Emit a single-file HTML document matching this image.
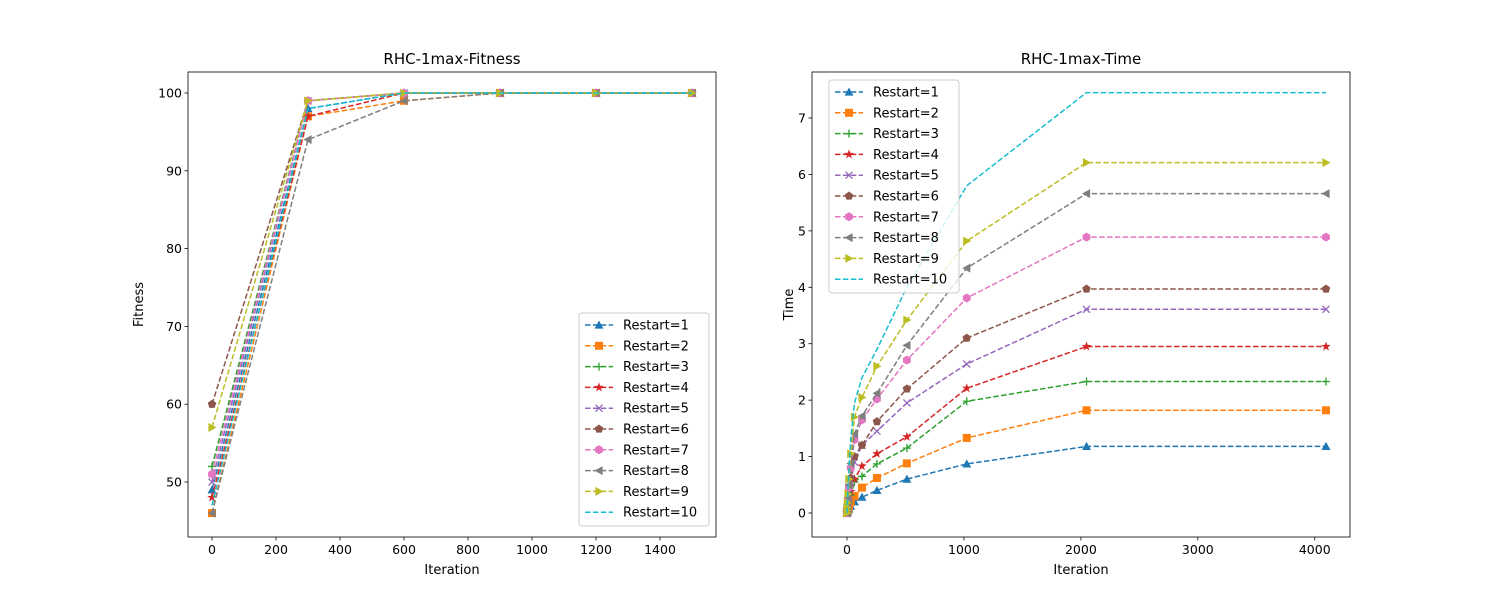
<!DOCTYPE html>
<html><head><meta charset="utf-8"><style>
body{margin:0;background:#fff;font-family:"Liberation Sans","DejaVu Sans",sans-serif}
svg text{font-family:"DejaVu Sans","Liberation Sans",sans-serif}
</style></head><body>
<svg id="c" width="1500" height="600" xmlns="http://www.w3.org/2000/svg"></svg>
<script>
const colors=['#1f77b4','#ff7f0e','#2ca02c','#d62728','#9467bd','#8c564b','#e377c2','#7f7f7f','#bcbd22','#17becf'];
const markers=['tri-up','square','plus','star','x','pentagon','hexagon','tri-left','tri-right','none'];
const seriesNames=['Restart=1','Restart=2','Restart=3','Restart=4','Restart=5','Restart=6','Restart=7','Restart=8','Restart=9','Restart=10'];
const fitIters=[0,300,600,900,1200,1500];
const fitValues=[
[49,98,100,100,100,100],[46,97,99,100,100,100],[52,99,100,100,100,100],[48,97,100,100,100,100],[50,99,100,100,100,100],
[60,99,100,100,100,100],[51,99,100,100,100,100],[46,94,99,100,100,100],[57,99,100,100,100,100],[47,98,100,100,100,100]];
const timeIters=[0,1,2,4,8,16,32,64,128,256,512,1024,2048,4096];
const timeValues=[
[0,0.01,0.01,0.02,0.04,0.07,0.12,0.2,0.28,0.4,0.6,0.87,1.18,1.18],
[0,0.01,0.02,0.03,0.06,0.11,0.19,0.3,0.45,0.62,0.88,1.33,1.82,1.82],
[0,0.02,0.03,0.05,0.1,0.18,0.32,0.55,0.65,0.87,1.15,1.98,2.33,2.33],
[0,0.02,0.04,0.07,0.13,0.23,0.38,0.6,0.83,1.05,1.35,2.21,2.95,2.95],
[0,0.03,0.05,0.09,0.17,0.3,0.55,0.9,1.2,1.45,1.95,2.64,3.61,3.61],
[0,0.03,0.06,0.1,0.2,0.35,0.62,1.0,1.2,1.62,2.2,3.1,3.97,3.97],
[0,0.04,0.07,0.13,0.25,0.45,0.8,1.3,1.65,2.02,2.71,3.81,4.89,4.89],
[0,0.04,0.08,0.15,0.28,0.5,0.88,1.4,1.72,2.12,2.97,4.34,5.66,5.66],
[0,0.05,0.1,0.18,0.34,0.6,1.05,1.7,2.05,2.6,3.42,4.82,6.21,6.21],
[0,0.06,0.12,0.22,0.42,0.75,1.3,1.95,2.4,2.9,4.0,5.8,7.45,7.45]];
const fitXTicks=[0,200,400,600,800,1000,1200,1400];
const fitYTicks=[50,60,70,80,90,100];
const timeXTicks=[0,1000,2000,3000,4000];
const timeYTicks=[0,1,2,3,4,5,6,7];
const svg=document.getElementById('c');const NS='http://www.w3.org/2000/svg';
function el(t,a,p){const e=document.createElementNS(NS,t);for(const k in a)e.setAttribute(k,a[k]);(p||svg).appendChild(e);return e;}
function marker(g,kind,x,y,c){
 let m;const s=4.5;
 if(kind==='none')return;
 if(kind==='tri-up')m=el('polygon',{points:`${x},${y-s} ${x-s},${y+s*0.8} ${x+s},${y+s*0.8}`,fill:c},g);
 else if(kind==='tri-left')m=el('polygon',{points:`${x-s},${y} ${x+s*0.8},${y-s} ${x+s*0.8},${y+s}`,fill:c},g);
 else if(kind==='tri-right')m=el('polygon',{points:`${x+s},${y} ${x-s*0.8},${y-s} ${x-s*0.8},${y+s}`,fill:c},g);
 else if(kind==='square')m=el('rect',{x:x-4,y:y-4,width:8,height:8,fill:c},g);
 else if(kind==='plus'){m=el('path',{d:`M${x-4},${y}H${x+4}M${x},${y-4}V${y+4}`,stroke:c,'stroke-width':1.3},g);}
 else if(kind==='x'){m=el('path',{d:`M${x-3.5},${y-3.5}L${x+3.5},${y+3.5}M${x-3.5},${y+3.5}L${x+3.5},${y-3.5}`,stroke:c,'stroke-width':1.3},g);}
 else if(kind==='star'){let p=[];for(let i=0;i<10;i++){const r=i%2?2:5,a=-Math.PI/2+i*Math.PI/5;p.push((x+r*Math.cos(a))+','+(y+r*Math.sin(a)));}m=el('polygon',{points:p.join(' '),fill:c},g);}
 else if(kind==='pentagon'){let p=[];for(let i=0;i<5;i++){const a=-Math.PI/2+i*2*Math.PI/5;p.push((x+4.5*Math.cos(a))+','+(y+4.5*Math.sin(a)));}m=el('polygon',{points:p.join(' '),fill:c},g);}
 else if(kind==='hexagon'){let p=[];for(let i=0;i<6;i++){const a=-Math.PI/2+i*Math.PI/3;p.push((x+4.5*Math.cos(a))+','+(y+4.5*Math.sin(a)));}m=el('polygon',{points:p.join(' '),fill:c},g);}
 
 
}
function panel(o){
 const g=el('g',{});
 
 
 const sx=v=>o.x0+(v-o.xmin)/(o.xmax-o.xmin)*(o.x1-o.x0);
 const sy=v=>o.y0-(v-o.ymin)/(o.ymax-o.ymin)*(o.y0-o.y1);
 o.xs.forEach((xa,i)=>{
  const ys=o.vals[i];
  const sg=el('g',{},g);
  
  
  const l=el('polyline',{points:xa.map((x,j)=>sx(x)+','+sy(ys[j])).join(' '),fill:'none',stroke:colors[i],'stroke-width':1.5,'stroke-dasharray':'5.5,2.4'},sg);
  
  
  xa.forEach((x,j)=>marker(sg,markers[i],sx(x),sy(ys[j]),colors[i]));
 });
 const fr=el('rect',{x:o.bx0,y:o.by0,width:o.bx1-o.bx0,height:o.by1-o.by0,fill:'none',stroke:'#000','stroke-width':0.8},g);
 
 
 o.xt.forEach(v=>{const x=sx(v);el('line',{x1:x,x2:x,y1:o.by1,y2:o.by1+3.5,stroke:'#000','stroke-width':0.8},g);
  const t=el('text',{x:x,y:o.by1+17,'text-anchor':'middle','font-size':12.5},g);t.textContent=v;
  
  });
 o.yt.forEach(v=>{const y=sy(v);el('line',{x1:o.bx0-3.5,x2:o.bx0,y1:y,y2:y,stroke:'#000','stroke-width':0.8},g);
  const t=el('text',{x:o.bx0-6,y:y+4.5,'text-anchor':'end','font-size':12.5},g);t.textContent=v;
  
  });
 let t=el('text',{x:(o.bx0+o.bx1)/2,y:o.by0-8,'text-anchor':'middle','font-size':15},g);t.textContent=o.title;
 
 
 t=el('text',{x:(o.bx0+o.bx1)/2,y:574,'text-anchor':'middle','font-size':13},g);t.textContent='Iteration';
 
 
 t=el('text',{x:0,y:0,'text-anchor':'middle','font-size':13,transform:`translate(${o.ylx},${(o.by0+o.by1)/2}) rotate(-90)`},g);t.textContent=o.ylabel;
 
 
 const lg=el('g',{},g);
 
 
 el('rect',{x:o.lx,y:o.ly,width:130,height:213,rx:3,fill:'#fff','fill-opacity':0.8,stroke:'#ccc'},lg);
 seriesNames.forEach((n,i)=>{
  const y=o.ly+12+i*20.8;
  const e=el('g',{},lg);
  
  
  el('line',{x1:o.lx+6,x2:o.lx+34,y1:y,y2:y,stroke:colors[i],'stroke-width':1.5,'stroke-dasharray':'5.5,2.4'},e);
  marker(e,markers[i],o.lx+20,y,colors[i]);
  const tx=el('text',{x:o.lx+44,y:y+4.5,'font-size':13},e);tx.textContent=n;
 });
}
panel({name:'fitness-chart',x0:212,x1:692,xmin:0,xmax:1500,y0:482,y1:93,ymin:50,ymax:100,bx0:188,bx1:716,by0:72,by1:537,
 xs:fitValues.map(()=>fitIters),vals:fitValues,xt:fitXTicks,yt:fitYTicks,title:'RHC-1max-Fitness',ylabel:'Fitness',ylx:143,lx:579,ly:313});
panel({name:'time-chart',x0:847,x1:1326,xmin:0,xmax:4096,y0:513,y1:118,ymin:0,ymax:7,bx0:812,bx1:1350,by0:72,by1:537,
 xs:timeValues.map(()=>timeIters),vals:timeValues,xt:timeXTicks,yt:timeYTicks,title:'RHC-1max-Time',ylabel:'Time',ylx:793,lx:829,ly:80});
</script>
</body></html>
